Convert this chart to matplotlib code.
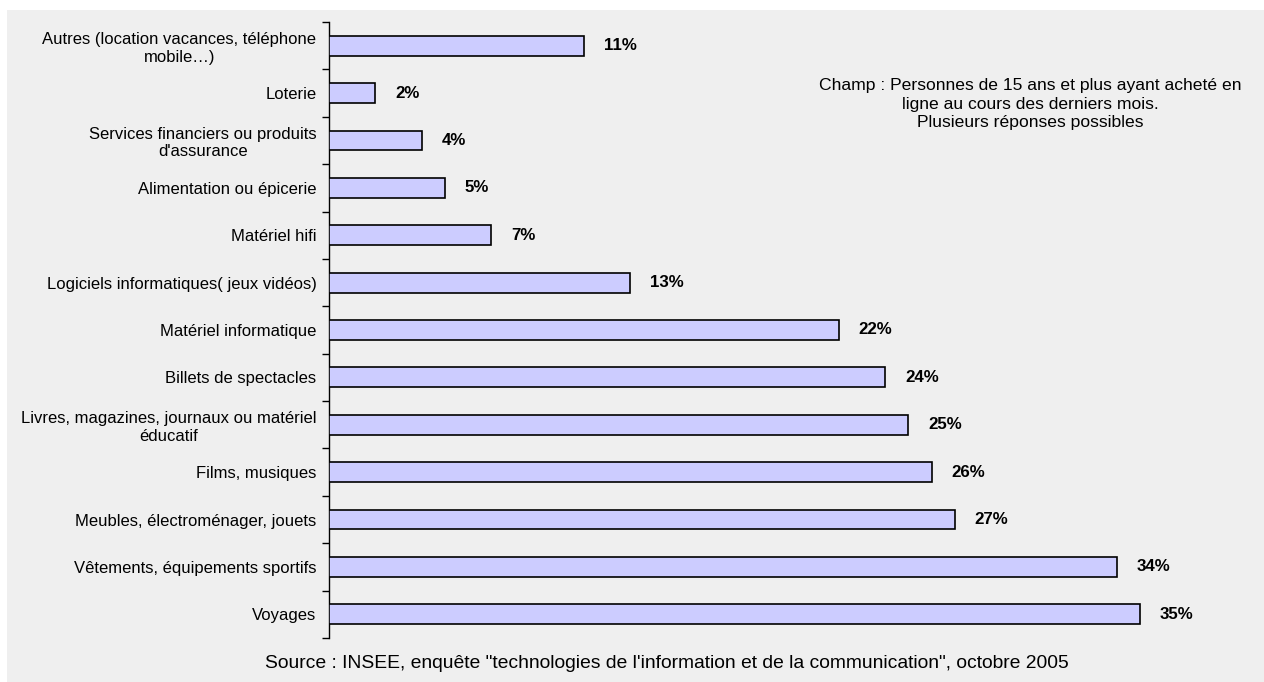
import matplotlib.pyplot as plt
from matplotlib.patches import Rectangle

plt.rcParams['font.family'] = ['Liberation Sans', 'DejaVu Sans']

categories = [
    "Autres (location vacances, téléphone\nmobile…)",
    "Loterie",
    "Services financiers ou produits\nd'assurance",
    "Alimentation ou épicerie",
    "Matériel hifi",
    "Logiciels informatiques( jeux vidéos)",
    "Matériel informatique",
    "Billets de spectacles",
    "Livres, magazines, journaux ou matériel\néducatif",
    "Films, musiques",
    "Meubles, électroménager, jouets",
    "Vêtements, équipements sportifs",
    "Voyages",
]
values = [11, 2, 4, 5, 7, 13, 22, 24, 25, 26, 27, 34, 35]

note = ("Champ : Personnes de 15 ans et plus ayant acheté en\n"
        "ligne au cours des derniers mois.\n"
        "Plusieurs réponses possibles")
source = ('Source : INSEE, enquête "technologies de l\'information et de la '
          'communication", octobre 2005')

fig = plt.figure(figsize=(12.64, 6.82), dpi=100)
fig.patch.set_facecolor("white")
# grey panel behind the chart
fig.patches.append(Rectangle((7 / 1264, 0), 1 - 7 / 1264, 1 - 10 / 682,
                             transform=fig.transFigure, facecolor="#efefef",
                             edgecolor="none", zorder=-10))

ax = fig.add_axes([329 / 1264, 44 / 682, 927 / 1264, 616 / 682])
ax.set_facecolor("none")

pos = list(range(len(categories)))
ax.barh(pos, values, height=0.42, color="#ccccff", edgecolor="black",
        linewidth=1.2, zorder=3)
for p, v in zip(pos, values):
    ax.text(v + 0.85, p, f"{v}%", va="center", ha="left", fontsize=12.2,
            fontweight="bold")

ax.set_xlim(0, 40)
ax.set_ylim(len(categories) - 0.5, -0.5)

ax.set_yticks(pos)
ax.set_yticklabels(categories, fontsize=12, multialignment="center",
                   linespacing=1.2)
ax.tick_params(axis="y", length=0, pad=9)
# tick marks between categories
ax.set_yticks([p - 0.5 for p in pos] + [len(pos) - 0.5], minor=True)
ax.tick_params(axis="y", which="minor", length=5, width=1, direction="out")
ax.set_xticks([])

for s in ["top", "right", "bottom"]:
    ax.spines[s].set_visible(False)
ax.spines["left"].set_linewidth(1)

fig.text(1030 / 1264, 1 - 104 / 682, note, ha="center", va="center",
         fontsize=12.6, linespacing=1.3)
fig.text(667 / 1264, 1 - 664 / 682, source, ha="center", va="center",
         fontsize=13.85)

fig.savefig("out.png", dpi=100)
